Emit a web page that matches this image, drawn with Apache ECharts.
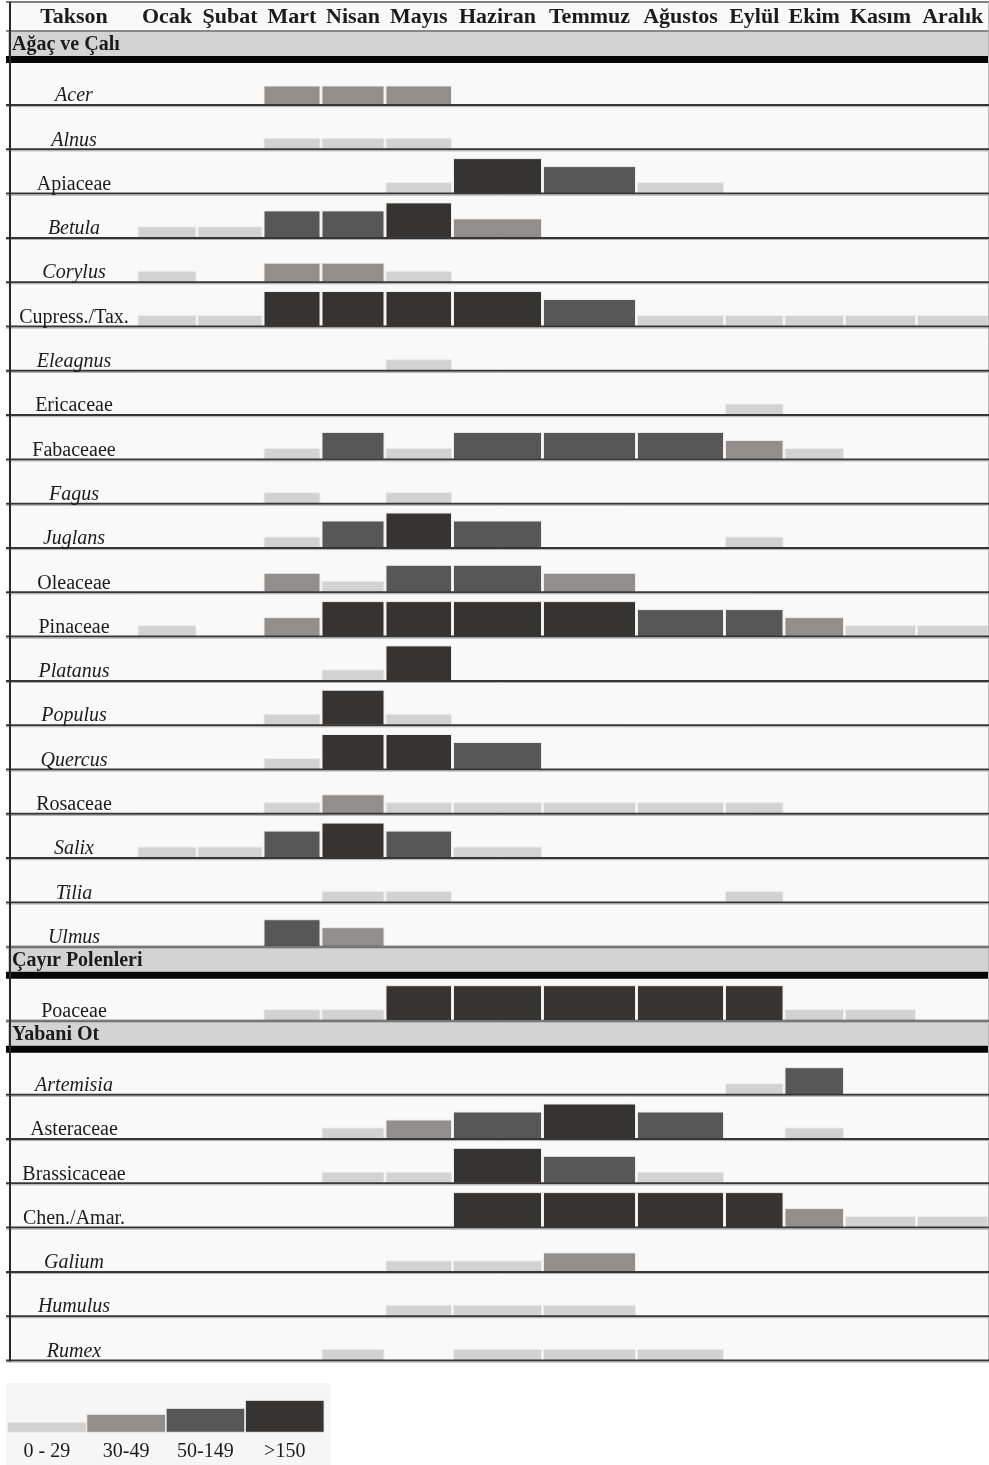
<!DOCTYPE html>
<html><head><meta charset="utf-8">
<script src="https://cdn.jsdelivr.net/npm/echarts@6/dist/echarts.min.js"></script>
<style>html,body{margin:0;padding:0;background:#fff}#c{width:989px;height:1465px}</style>
</head><body><div id="c"></div>
<script>
// ---------------- DATA ----------------
const months = ['Ocak','Şubat','Mart','Nisan','Mayıs','Haziran','Temmuz','Ağustos','Eylül','Ekim','Kasım','Aralık'];
const headerTitle = 'Takson';
const sectionNames = ['Ağaç ve Çalı','Çayır Polenleri','Yabani Ot'];

const treeTaxa = ['Acer','Alnus','Apiaceae','Betula','Corylus','Cupress./Tax.','Eleagnus','Ericaceae','Fabaceaee','Fagus','Juglans','Oleaceae','Pinaceae','Platanus','Populus','Quercus','Rosaceae','Salix','Tilia','Ulmus'];
// level class per month: 0 none, 1 = 0-29, 2 = 30-49, 3 = 50-149, 4 = >150
const treeLevels = [
  [0,0,2,2,2,0,0,0,0,0,0,0],
  [0,0,1,1,1,0,0,0,0,0,0,0],
  [0,0,0,0,1,4,3,1,0,0,0,0],
  [1,1,3,3,4,2,0,0,0,0,0,0],
  [1,0,2,2,1,0,0,0,0,0,0,0],
  [1,1,4,4,4,4,3,1,1,1,1,1],
  [0,0,0,0,1,0,0,0,0,0,0,0],
  [0,0,0,0,0,0,0,0,1,0,0,0],
  [0,0,1,3,1,3,3,3,2,1,0,0],
  [0,0,1,0,1,0,0,0,0,0,0,0],
  [0,0,1,3,4,3,0,0,1,0,0,0],
  [0,0,2,1,3,3,2,0,0,0,0,0],
  [1,0,2,4,4,4,4,3,3,2,1,1],
  [0,0,0,1,4,0,0,0,0,0,0,0],
  [0,0,1,4,1,0,0,0,0,0,0,0],
  [0,0,1,4,4,3,0,0,0,0,0,0],
  [0,0,1,2,1,1,1,1,1,0,0,0],
  [1,1,3,4,3,1,0,0,0,0,0,0],
  [0,0,0,1,1,0,0,0,1,0,0,0],
  [0,0,3,2,0,0,0,0,0,0,0,0]
];
const grassTaxa = ['Poaceae'];
const grassLevels = [
  [0,0,1,1,4,4,4,4,4,1,1,0]
];
const weedTaxa = ['Artemisia','Asteraceae','Brassicaceae','Chen./Amar.','Galium','Humulus','Rumex'];
const weedLevels = [
  [0,0,0,0,0,0,0,0,1,3,0,0],
  [0,0,0,1,2,3,4,3,0,1,0,0],
  [0,0,0,1,1,4,3,1,0,0,0,0],
  [0,0,0,0,0,4,4,4,4,2,1,1],
  [0,0,0,0,1,1,2,0,0,0,0,0],
  [0,0,0,0,1,1,1,0,0,0,0,0],
  [0,0,0,1,0,1,1,1,0,0,0,0]
];
const italicTaxa = ['Acer','Alnus','Betula','Corylus','Eleagnus','Fagus','Juglans','Platanus','Populus','Quercus','Salix','Tilia','Ulmus','Artemisia','Galium','Humulus','Rumex'];
const legendLevels = [1,2,3,4];
const legendLabels = ['0 - 29','30-49','50-149','>150'];

// ---------------- LAYOUT / STYLE ----------------
const TABLE_W = 981;
const LABEL_W = 129;
const MONTH_W = [60,66,58,64,67.5,90,94,88,59.5,60.5,72,72.5];
const TOP = 2, HEADER_H = 29, SECTION_H = 29.7, BAND_H = 25, THICK_H = 7, ROW_H = 44.3;
const LEVEL_H = [0,11,19,27,35];
const LEG_H = [0,10,18,24,32];
const LEVEL_COLOR = [null,'#d2d2d2','#928e8c','#575757','#363432'];
const FONT = '"Liberation Serif","Times New Roman",serif';
const TEXT = '#1b1b1b';
const LEG = {x:-2, y0:1383, y1:1465, barX:-0.5, barW:79.3, base:1432.3, labelY:1452};

const colEdges = [0, LABEL_W];
MONTH_W.forEach(w => colEdges.push(colEdges[colEdges.length-1] + w));

const sections = [
  {name: sectionNames[0], taxa: treeTaxa, levels: treeLevels},
  {name: sectionNames[1], taxa: grassTaxa, levels: grassLevels},
  {name: sectionNames[2], taxa: weedTaxa, levels: weedLevels}
];
const rows = [];
let yc = TOP + HEADER_H;
sections.forEach(s => {
  rows.push({kind:'section', name:s.name, y0:yc, y1:yc+SECTION_H});
  yc += SECTION_H;
  s.taxa.forEach((t,i) => {
    rows.push({kind:'taxon', name:t, italic: italicTaxa.includes(t), levels:s.levels[i], y0:yc, y1:yc+ROW_H});
    yc += ROW_H;
  });
});
const TABLE_BOTTOM = yc;

const cells = [];
rows.forEach((r,ri) => {
  if (r.kind === 'taxon') r.levels.forEach((lv,m) => { if (lv > 0) cells.push([m, ri, lv]); });
});

function helpers(api) {
  return {
    rect(x0,y0,x1,y1,style) {
      const a = api.coord([x0,y0]), b = api.coord([x1,y1]);
      return {type:'rect', shape:{x:Math.min(a[0],b[0]), y:Math.min(a[1],b[1]), width:Math.abs(b[0]-a[0]), height:Math.abs(b[1]-a[1])}, style};
    },
    line(x0,y0,x1,y1,stroke,lw) {
      const a = api.coord([x0,y0]), b = api.coord([x1,y1]);
      return {type:'line', shape:{x1:a[0], y1:a[1], x2:b[0], y2:b[1]}, style:{stroke, lineWidth:lw}};
    },
    text(x,y,str,font,align) {
      const a = api.coord([x,y]);
      return {type:'text', style:{x:a[0], y:a[1], text:str, font, fill:TEXT, align:align||'center', verticalAlign:'middle'}};
    }
  };
}

const chart = echarts.init(document.getElementById('c'), null, {renderer:'canvas'});
chart.setOption({
  animation: false,
  backgroundColor: '#ffffff',
  grid: {left: 8, top: 0, width: TABLE_W, height: 1465},
  xAxis: {type:'value', min:0, max:TABLE_W, show:false},
  yAxis: {type:'value', min:0, max:1465, inverse:true, show:false},
  series: [
    { // table background & bands
      type:'custom', z:1, silent:true, data:[[0,0]],
      renderItem(params, api) {
        const h = helpers(api);
        const ch = [];
        ch.push(h.rect(0, TOP, TABLE_W, TABLE_BOTTOM, {fill:'#f9f9f9'}));
        rows.forEach(r => {
          if (r.kind === 'section') {
            ch.push(h.rect(0, r.y0, TABLE_W, r.y0 + BAND_H, {fill:'#d3d3d3'}));
            ch.push(h.rect(-2, r.y0 + BAND_H, TABLE_W, r.y0 + BAND_H + THICK_H, {fill:'#050505'}));
          }
        });
        ch.push(h.rect(LEG.x, LEG.y0, LEG.x + 325, LEG.y1, {fill:'#f6f6f6'}));
        return {type:'group', children: ch};
      }
    },
    { // pollen bars
      type:'custom', z:2, silent:true, data: cells,
      renderItem(params, api) {
        const h = helpers(api);
        const m = api.value(0), r = rows[api.value(1)], lv = api.value(2);
        const x0 = colEdges[m+1] + 1, x1 = colEdges[m+2] - 1;
        return h.rect(x0, r.y1 - LEVEL_H[lv], x1, r.y1, {fill: LEVEL_COLOR[lv], stroke:'#ececec', lineWidth:1});
      }
    },
    { // legend bars
      type:'custom', z:2, silent:true, data: legendLevels.map((lv,i) => [i, lv]),
      renderItem(params, api) {
        const h = helpers(api);
        const i = api.value(0), lv = api.value(1);
        const x0 = LEG.barX + LEG.barW * i, x1 = x0 + LEG.barW - 0.6;
        return {type:'group', children:[
          h.rect(x0, LEG.base - LEG_H[lv], x1, LEG.base, {fill: LEVEL_COLOR[lv], stroke:'#ececec', lineWidth:1}),
          h.text((x0+x1)/2, LEG.labelY, legendLabels[i], '20px ' + FONT)
        ]};
      }
    },
    { // lines & labels
      type:'custom', z:3, silent:true, data:[[0,0]],
      renderItem(params, api) {
        const h = helpers(api);
        const ch = [];
        ch.push(h.line(-2, TOP, TABLE_W, TOP, '#555', 1.5));
        ch.push(h.line(-2, TOP + HEADER_H, TABLE_W, TOP + HEADER_H, '#6a6a6a', 1.5));
        ch.push(h.line(TABLE_W - 0.5, TOP, TABLE_W - 0.5, TABLE_BOTTOM, '#b8b8b8', 1));
        ch.push(h.text(LABEL_W/2 + 1.5, TOP + 15.5, headerTitle, 'bold 22px ' + FONT));
        months.forEach((mn, m) => {
          ch.push(h.text((colEdges[m+1] + colEdges[m+2]) / 2, TOP + 15.5, mn, 'bold 22px ' + FONT));
        });
        rows.forEach(r => {
          if (r.kind === 'section') {
            ch.push(h.line(-2, r.y0, TABLE_W, r.y0, '#8a8a8a', 1));
            ch.push(h.text(4, r.y0 + 14, r.name, 'bold 20px ' + FONT, 'left'));
          } else {
            ch.push(h.line(-2, r.y1, TABLE_W, r.y1, '#363636', 2));
            ch.push(h.line(-2, r.y1 + 1.6, TABLE_W, r.y1 + 1.6, '#b0b0b0', 1));
            ch.push(h.text(LABEL_W/2 + 1.5, r.y1 - 9, r.name, (r.italic ? 'italic ' : '') + '20px ' + FONT));
          }
        });
        ch.push(h.line(2, TOP, 2, TABLE_BOTTOM + 1, '#2a2a2a', 2));
        return {type:'group', children: ch};
      }
    }
  ]
});
</script></body></html>
